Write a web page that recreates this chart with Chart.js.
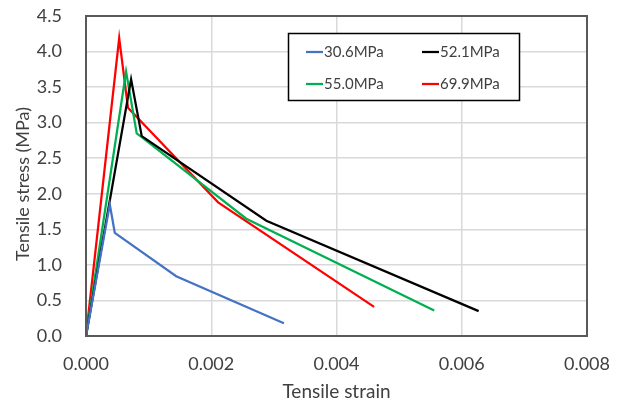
<!DOCTYPE html>
<html>
<head>
<meta charset="utf-8">
<script src="https://cdn.jsdelivr.net/npm/chart.js@4"></script>
<style>
  html, body { margin: 0; padding: 0; background: #fff; }
  #wrap { width: 620px; height: 403px; position: relative; }
</style>
</head>
<body>
<div id="wrap"><canvas id="c"></canvas></div>
<script>
// 시리즈 이름과 색
const seriesNames = ['30.6MPa', '52.1MPa', '55.0MPa', '69.9MPa'];
const seriesColors = ['#4472C4', '#000000', '#00B050', '#FF0000'];

// 변형률 / 응력 값
const strain306 = [0, 0.00038, 0.00046, 0.00144, 0.00316];
const stress306 = [0, 1.85, 1.45, 0.84, 0.18];

const strain521 = [0, 0.00072, 0.00089, 0.00288, 0.00627];
const stress521 = [0, 3.61, 2.81, 1.62, 0.35];

const strain550 = [0, 0.00064, 0.00081, 0.00090, 0.00256, 0.00556];
const stress550 = [0, 3.72, 2.85, 2.79, 1.65, 0.36];

const strain699 = [0, 0.00053, 0.00067, 0.00211, 0.00460];
const stress699 = [0, 4.19, 3.21, 1.88, 0.41];

const xTicks = [0, 0.002, 0.004, 0.006, 0.008];
const yTicks = [0, 0.5, 1.0, 1.5, 2.0, 2.5, 3.0, 3.5, 4.0, 4.5];

const xTitle = 'Tensile strain';
const yTitle = 'Tensile stress (MPa)';

const fontFamily = 'Lato, "Noto Sans", sans-serif';
const textColor = '#404040';

function toPoints(xs, ys) {
    return xs.map((x, i) => ({ x: x, y: ys[i] }));
}

const allSeries = [
    toPoints(strain306, stress306),
    toPoints(strain521, stress521),
    toPoints(strain550, stress550),
    toPoints(strain699, stress699)
];

// 라벨 넘침 때문에 생기는 여백 제거
function fixPadding(scale) {
    scale.paddingTop = 0;
    scale.paddingBottom = 0;
    scale.paddingLeft = 0;
    scale.paddingRight = 0;
}

// 플롯 테두리 + y축 제목 + 범례 박스
const framePlugin = {
    id: 'frame',
    afterDraw(chart) {
        const { ctx, chartArea: a } = chart;
        ctx.save();
        ctx.strokeStyle = '#595959';
        ctx.lineWidth = 2;
        ctx.strokeRect(a.left, a.top, a.right - a.left, a.bottom - a.top);

        // y축 제목 (엑셀처럼 조금 아래로 치우침)
        ctx.save();
        ctx.translate(23, (a.top + a.bottom) / 2 + 8);
        ctx.rotate(-Math.PI / 2);
        ctx.font = '18px ' + fontFamily;
        ctx.fillStyle = textColor;
        ctx.textAlign = 'center';
        ctx.textBaseline = 'middle';
        ctx.fillText(yTitle, 0, 0);
        ctx.restore();

        // 범례
        const bx = 288.5, by = 33.5, bw = 231, bh = 67;
        ctx.fillStyle = '#fff';
        ctx.fillRect(bx, by, bw, bh);
        ctx.strokeStyle = '#000';
        ctx.lineWidth = 1.5;
        ctx.strokeRect(bx, by, bw, bh);

        const cols = [306, 422];
        const rows = [52, 84];
        ctx.font = '15px ' + fontFamily;
        ctx.textBaseline = 'middle';
        ctx.textAlign = 'left';
        chart.data.datasets.forEach((ds, i) => {
            const x = cols[i % 2];
            const y = rows[Math.floor(i / 2)];
            ctx.strokeStyle = ds.borderColor;
            ctx.lineWidth = 2.25;
            ctx.beginPath();
            ctx.moveTo(x, y);
            ctx.lineTo(x + 17, y);
            ctx.stroke();
            ctx.fillStyle = textColor;
            ctx.fillText(ds.label, x + 18, y);
        });
        ctx.restore();
    }
};

new Chart(document.getElementById('c'), {
    type: 'scatter',
    data: {
        datasets: allSeries.map((pts, i) => ({
            label: seriesNames[i],
            data: pts,
            showLine: true,
            borderColor: seriesColors[i],
            backgroundColor: seriesColors[i],
            borderWidth: 2.25,
            pointRadius: 0,
            tension: 0
        }))
    },
    options: {
        responsive: true,
        maintainAspectRatio: false,
        animation: false,
        layout: { padding: { left: 0, right: 33, top: 16, bottom: 0 } },
        plugins: {
            legend: { display: false },
            tooltip: { enabled: false }
        },
        scales: {
            x: {
                type: 'linear',
                min: 0,
                max: 0.008,
                afterFit(scale) { scale.height = 67; fixPadding(scale); },
                afterBuildTicks(scale) { scale.ticks = xTicks.map(v => ({ value: v })); },
                grid: { color: '#d9d9d9', lineWidth: 1.5, drawTicks: false },
                border: { display: false },
                ticks: {
                    padding: 17,
                    color: textColor,
                    font: { family: fontFamily, size: 18 },
                    callback: v => v.toFixed(3)
                },
                title: {
                    display: true,
                    text: xTitle,
                    color: textColor,
                    font: { family: fontFamily, size: 19 },
                    padding: { top: 0, bottom: 0 }
                }
            },
            y: {
                type: 'linear',
                min: 0,
                max: 4.5,
                afterFit(scale) { scale.width = 86; fixPadding(scale); },
                afterBuildTicks(scale) { scale.ticks = yTicks.map(v => ({ value: v })); },
                grid: { color: '#d9d9d9', lineWidth: 1.5, drawTicks: false },
                border: { display: false },
                ticks: {
                    padding: 24,
                    color: textColor,
                    font: { family: fontFamily, size: 18 },
                    callback: v => v.toFixed(1)
                },
                title: { display: false }
            }
        }
    },
    plugins: [framePlugin]
});
</script>
</body>
</html>
